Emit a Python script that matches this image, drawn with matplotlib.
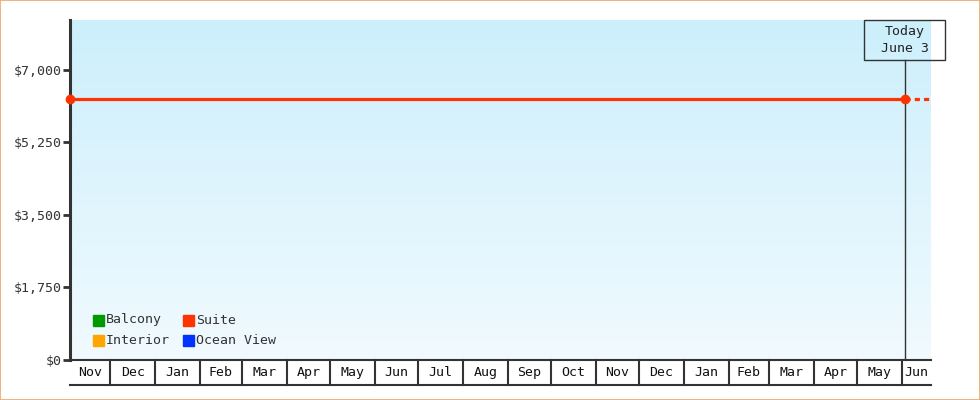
import datetime as dt
import numpy as np
import matplotlib
matplotlib.use("Agg")
import matplotlib.pyplot as plt
import matplotlib.dates as mdates
from matplotlib.patches import Rectangle

plt.rcParams['font.family'] = ['DejaVu Sans Mono']

# data
series_names = ["Balcony", "Interior", "Suite", "Ocean View"]
series_colors = ["#009900", "#ffa500", "#ff3300", "#0033ff"]
suite_dates = ["2023-11-03", "2025-06-03"]
suite_prices = [6300, 6300]
range_start = "2023-11-03"
range_end = "2025-06-21"
today = "2025-06-03"
today_label = "Today\nJune 3"
y_ticks = [0, 1750, 3500, 5250, 7000]
y_max = 8200

d = lambda s: mdates.date2num(dt.datetime.strptime(s, "%Y-%m-%d"))
x0, x1, xt = d(range_start), d(range_end), d(today)

fig = plt.figure(figsize=(9.8, 4), dpi=100)
ax = fig.add_axes([70 / 980, 40 / 400, 861 / 980, 340 / 400])
ax.set_xlim(x0, x1)
ax.set_ylim(0, y_max)

# background gradient
top = np.array([204, 239, 252]) / 255
bot = np.array([241, 250, 255]) / 255
t = np.linspace(0, 1, 256)[:, None]
grad = (top * (1 - t) + bot * t)[:, None, :].repeat(2, axis=1)
ax.imshow(grad, extent=[x0, x1, 0, y_max], aspect="auto", zorder=0)

# suite line
sx = [d(s) for s in suite_dates]
ax.plot(sx, suite_prices, color="#ff3300", lw=2.3, zorder=3, clip_on=False,
        marker="o", markersize=6)
ax.plot([xt, x1], [suite_prices[-1]] * 2, color="#ff3300", lw=2.3,
        linestyle=(0, (1.6, 1.3)), zorder=3)

# today line and box (box bottom sits 60px from the top)
box_bottom = (360 - 60) / 340 * y_max
ax.plot([xt, xt], [0, box_bottom], color="#333333", lw=1, zorder=2)
fig.text(904.5 / 980, 1 - 40 / 400, today_label, ha="center", va="center",
         fontsize=9.5, color="#222222", linespacing=1.35)
fig.add_artist(Rectangle((864 / 980, 1 - 60 / 400), 81 / 980, 40 / 400,
                         transform=fig.transFigure, fill=False,
                         edgecolor="#333333", lw=1))

# axes styling
for s in ["top", "right"]:
    ax.spines[s].set_visible(False)
ax.spines["left"].set_linewidth(2.2)
ax.spines["left"].set_color("#333333")
ax.spines["bottom"].set_linewidth(1.5)
ax.spines["bottom"].set_color("#333333")
ax.set_yticks(y_ticks)
ax.set_yticklabels(["${:,}".format(v) for v in y_ticks])
ax.tick_params(axis="y", length=5, width=2, color="#333333", labelsize=9.5,
               labelcolor="#333333", pad=1)
ax.set_xticks([])

# month table under the axis
tr = ax.get_xaxis_transform()
row_bot = -25 / 340
ax.plot([x0, x1], [row_bot, row_bot], color="#333333", lw=1.5,
        transform=tr, clip_on=False)
m = dt.datetime(2023, 11, 1)
while mdates.date2num(m) < x1:
    nxt = dt.datetime(m.year + (m.month == 12), m.month % 12 + 1, 1)
    a = max(mdates.date2num(m), x0)
    b = min(mdates.date2num(nxt), x1)
    if a > x0:
        ax.plot([a, a], [0, row_bot], color="#333333", lw=1.5,
                transform=tr, clip_on=False)
    ax.text((a + b) / 2, row_bot / 2, m.strftime("%b"), transform=tr,
            ha="center", va="center", fontsize=9.5, color="#111111")
    m = nxt

# legend
for i, (name, col) in enumerate(zip(series_names, series_colors)):
    px = 93 + (i // 2) * 90
    py = 320 + (i % 2) * 20
    fig.add_artist(Rectangle((px / 980, 1 - (py + 6) / 400), 11 / 980, 11 / 400,
                             transform=fig.transFigure, color=col))
    fig.text((px + 13) / 980, 1 - py / 400, name, ha="left", va="center",
             fontsize=9.5, color="#333333")

# outer border
fig.add_artist(Rectangle((0.0005, 0.001), 0.999, 0.998, transform=fig.transFigure,
                         fill=False, edgecolor="#eaa862", lw=1.2))

fig.savefig("out.png", dpi=100)
